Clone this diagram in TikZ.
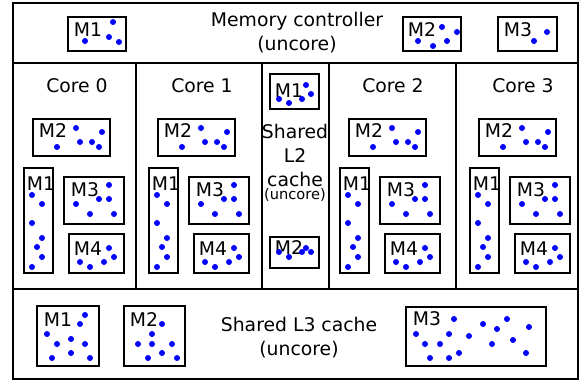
\documentclass[tikz,border=0pt]{standalone}
\usepackage{fontspec}
\setmainfont{DejaVu Sans}
\tikzset{
  membox/.style={draw, line width=1pt},
  memdot/.style={fill=blue},
  memlabel/.style={anchor=base west, inner sep=0pt},
}
\begin{document}
\begin{tikzpicture}[x=0.5pt, y=-0.5pt, line width=0.9pt,
    every node/.style={font=\fontsize{9.4}{12}\selectfont}]
        \useasboundingbox (0,0) rectangle (580,381);
        % frame
        \draw (13,3) rectangle (578,379);
        \draw (13,63) -- (578,63);
        \draw (13,289) -- (578,289);
        \draw (136,63) -- (136,289);
        \draw (262,63) -- (262,289);
        \draw (329,63) -- (329,289);
        \draw (456,63) -- (456,289);

        % memory controller
        \node[align=center] (memctl) at (297,33) {Memory controller\\(uncore)};
        \draw[membox] (68,17) rectangle (126,51);
        \node[memlabel] (mcm1) at (73,36) {M1};
        \fill[memdot] (113,22) circle (3) (85,41) circle (3) (109,37) circle (3) (119,42) circle (3);
        \draw[membox] (403,17) rectangle (461,51);
        \node[memlabel] (mcm2) at (407,36) {M2};
        \fill[memdot] (442,27) circle (3) (457,32) circle (3) (418,41) circle (3) (433,46) circle (3) (447,41) circle (3);
        \draw[membox] (498,17) rectangle (557,51);
        \node[memlabel] (mcm3) at (503,36) {M3};
        \fill[memdot] (547,32) circle (3) (534,41) circle (3);

        \begin{scope}[shift={(0,0)}]
        \node[anchor=base] (core0) at (77,92) {Core 0};
        \draw[membox] (33,119) rectangle (110,156);
        \node[memlabel] (core0m2) at (38,137) {M2};
        \fill[memdot] (76,128) circle (3) (102,132) circle (3) (80,142) circle (3) (92,142) circle (3) (99,147) circle (3) (57,147) circle (3);
        \draw[membox] (24,168) rectangle (53,273);
        \node[memlabel] (core0m1) at (26,190) {M1};
        \fill[memdot] (32,195) circle (3) (42,204) circle (3) (32,223) circle (3) (42,238) circle (3) (37,247) circle (3) (42,257) circle (3) (32,267) circle (3);
        \draw[membox] (64,177) rectangle (124,224);
        \node[memlabel] (core0m3) at (70,196) {M3};
        \fill[memdot] (109,185) circle (3) (99,199) circle (3) (109,199) circle (3) (76,204) circle (3) (90,214) circle (3) (114,214) circle (3);
        \draw[membox] (69,234) rectangle (124,273);
        \node[memlabel] (core0m4) at (73,255) {M4};
        \fill[memdot] (109,248) circle (3) (114,257) circle (3) (80,262) circle (3) (90,267) circle (3) (104,262) circle (3);
        \end{scope}

        \begin{scope}[shift={(125,0)}]
        \node[anchor=base] (core1) at (77,92) {Core 1};
        \draw[membox] (33,119) rectangle (110,156);
        \node[memlabel] (core1m2) at (38,137) {M2};
        \fill[memdot] (76,128) circle (3) (102,132) circle (3) (80,142) circle (3) (92,142) circle (3) (99,147) circle (3) (57,147) circle (3);
        \draw[membox] (24,168) rectangle (53,273);
        \node[memlabel] (core1m1) at (26,190) {M1};
        \fill[memdot] (32,195) circle (3) (42,204) circle (3) (32,223) circle (3) (42,238) circle (3) (37,247) circle (3) (42,257) circle (3) (32,267) circle (3);
        \draw[membox] (64,177) rectangle (124,224);
        \node[memlabel] (core1m3) at (70,196) {M3};
        \fill[memdot] (109,185) circle (3) (99,199) circle (3) (109,199) circle (3) (76,204) circle (3) (90,214) circle (3) (114,214) circle (3);
        \draw[membox] (69,234) rectangle (124,273);
        \node[memlabel] (core1m4) at (73,255) {M4};
        \fill[memdot] (109,248) circle (3) (114,257) circle (3) (80,262) circle (3) (90,267) circle (3) (104,262) circle (3);
        \end{scope}

        % shared L2
        \node[align=center] (ltwo) at (295,155) {Shared\\L2\\cache};
        \node[anchor=base, font=\fontsize{7.3}{9}\selectfont] (ltwounc) at (295,199) {(uncore)};
        \draw[membox] (270,74) rectangle (319,109);
        \node[memlabel] (ltwom1) at (274,97) {M1};
        \fill[memdot] (306,85) circle (3) (311,94) circle (3) (279,99) circle (3) (289,103) circle (3) (302,99) circle (3);
        \draw[membox] (270,237) rectangle (319,268);
        \node[memlabel] (ltwom2) at (274,254) {M2};
        \fill[memdot] (306,248) circle (3) (311,252) circle (3) (279,252) circle (3) (289,257) circle (3) (302,252) circle (3);

        \begin{scope}[shift={(316,0)}]
        \node[anchor=base] (core2) at (77,92) {Core 2};
        \draw[membox] (33,119) rectangle (110,156);
        \node[memlabel] (core2m2) at (38,137) {M2};
        \fill[memdot] (76,128) circle (3) (102,132) circle (3) (80,142) circle (3) (92,142) circle (3) (99,147) circle (3) (57,147) circle (3);
        \draw[membox] (24,168) rectangle (53,273);
        \node[memlabel] (core2m1) at (26,190) {M1};
        \fill[memdot] (32,195) circle (3) (42,204) circle (3) (32,223) circle (3) (42,238) circle (3) (37,247) circle (3) (42,257) circle (3) (32,267) circle (3);
        \draw[membox] (64,177) rectangle (124,224);
        \node[memlabel] (core2m3) at (70,196) {M3};
        \fill[memdot] (109,185) circle (3) (99,199) circle (3) (109,199) circle (3) (76,204) circle (3) (90,214) circle (3) (114,214) circle (3);
        \draw[membox] (69,234) rectangle (124,273);
        \node[memlabel] (core2m4) at (73,255) {M4};
        \fill[memdot] (109,248) circle (3) (114,257) circle (3) (80,262) circle (3) (90,267) circle (3) (104,262) circle (3);
        \end{scope}

        \begin{scope}[shift={(446,0)}]
        \node[anchor=base] (core3) at (77,92) {Core 3};
        \draw[membox] (33,119) rectangle (110,156);
        \node[memlabel] (core3m2) at (38,137) {M2};
        \fill[memdot] (76,128) circle (3) (102,132) circle (3) (80,142) circle (3) (92,142) circle (3) (99,147) circle (3) (57,147) circle (3);
        \draw[membox] (24,168) rectangle (53,273);
        \node[memlabel] (core3m1) at (26,190) {M1};
        \fill[memdot] (32,195) circle (3) (42,204) circle (3) (32,223) circle (3) (42,238) circle (3) (37,247) circle (3) (42,257) circle (3) (32,267) circle (3);
        \draw[membox] (64,177) rectangle (124,224);
        \node[memlabel] (core3m3) at (70,196) {M3};
        \fill[memdot] (109,185) circle (3) (99,199) circle (3) (109,199) circle (3) (76,204) circle (3) (90,214) circle (3) (114,214) circle (3);
        \draw[membox] (69,234) rectangle (124,273);
        \node[memlabel] (core3m4) at (73,255) {M4};
        \fill[memdot] (109,248) circle (3) (114,257) circle (3) (80,262) circle (3) (90,267) circle (3) (104,262) circle (3);
        \end{scope}

        % shared L3
        \node[align=center] (lthree) at (299,338) {Shared L3 cache\\(uncore)};
        \draw[membox] (37,306) rectangle (99,366);
        \node[memlabel] (lthreem1) at (43,326) {M1};
        \fill[memdot] (85,315) circle (3) (80,324) circle (3) (47,334) circle (3) (57,344) circle (3) (71,339) circle (3) (85,344) circle (3) (52,358) circle (3) (71,353) circle (3) (90,358) circle (3);
        \draw[membox] (124,306) rectangle (185,366);
        \node[memlabel] (lthreem2) at (129,326) {M2};
        \fill[memdot] (162,324) circle (3) (152,334) circle (3) (138,344) circle (3) (152,344) circle (3) (172,344) circle (3) (148,358) circle (3) (162,353) circle (3) (177,358) circle (3);
        \draw[membox] (406,307) rectangle (546,366);
        \node[memlabel] (lthreem3) at (412,325) {M3};
        \fill[memdot] (454,319) circle (3) (483,324) circle (3) (507,319) circle (3) (497,329) circle (3) (529,327) circle (3) (416,334) circle (3) (449,334) circle (3) (469,336) circle (3) (425,344) circle (3) (440,344) circle (3) (492,344) circle (3) (513,340) circle (3) (430,358) circle (3) (449,358) circle (3) (459,353) circle (3) (526,353) circle (3);
\end{tikzpicture}
\end{document}
